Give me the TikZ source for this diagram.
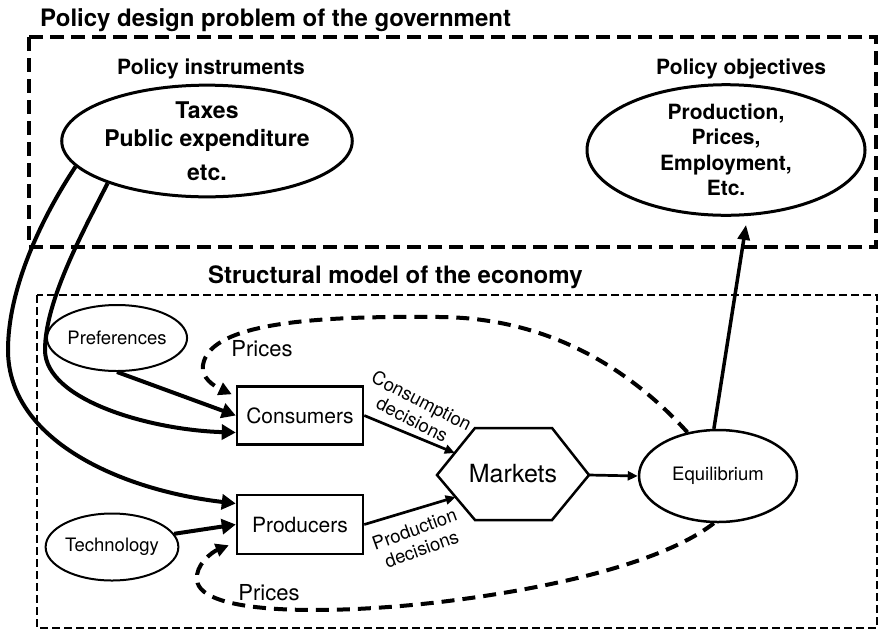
\documentclass[tikz,border=0pt]{standalone}
\usepackage{fontspec}
\setmainfont{TeX Gyre Heros}
\usetikzlibrary{arrows.meta,calc,shapes.geometric}
\begin{document}
\begin{tikzpicture}[x=1pt,y=-1pt,
  heading/.style={font=\fontsize{24}{28}\selectfont\bfseries, anchor=base west, inner sep=0},
  subheading/.style={font=\fontsize{21}{25}\selectfont\bfseries, anchor=base west, inner sep=0},
  policybox/.style={draw, line width=4pt, dash pattern=on 14pt off 7pt},
  modelbox/.style={draw, line width=2.5pt, dash pattern=on 8pt off 4pt},
  bigoval/.style={draw, ellipse, line width=3pt, inner sep=0, align=center},
  smalloval/.style={draw, ellipse, line width=2pt, inner sep=0, font=\fontsize{18.5}{22}\selectfont},
  agent/.style={draw, rectangle, line width=2.5pt, inner sep=0, minimum width=126pt, minimum height=58pt, font=\fontsize{21}{25}\selectfont},
  influence/.style={line width=4pt, -{Triangle[length=14pt,width=15pt]}},
  flow/.style={line width=2.7pt, -{Triangle[length=10pt,width=9pt]}},
  pricefeed/.style={line width=4pt, dash pattern=on 13pt off 8pt, -{Triangle[length=13pt,width=13pt]}},
  decision/.style={font=\fontsize{18.5}{21}\selectfont, align=center, inner sep=0},
  pricelabel/.style={font=\fontsize{22}{26}\selectfont, inner sep=0}
]
\useasboundingbox[fill=white] (0,0) rectangle (880,630);

% government level
\draw[policybox] (29,37) rectangle (876,247);
\node[heading] (govtitle) at (40,26) {Policy design problem of the government};
\node[subheading] (instrtitle) at (117,74) {Policy instruments};
\node[subheading] (objtitle) at (656,74) {Policy objectives};
\node[bigoval, minimum width=274pt, minimum height=108pt,
      font=\fontsize{23}{28}\selectfont\bfseries] (taxes) at (207,141)
      {Taxes\\Public expenditure\\[6pt]etc.};
\node[bigoval, minimum width=278pt, minimum height=109pt,
      font=\fontsize{21}{25.5}\selectfont\bfseries] (obj) at (726,150)
      {Production,\\Prices,\\Employment,\\Etc.};

% economy level
\draw[modelbox] (37,295) rectangle (877,628);
\node[heading] (ecotitle) at (208,283) {Structural model of the economy};
\node[smalloval, minimum width=126pt, minimum height=66pt] (pref) at (117,338) {Preferences};
\node[smalloval, minimum width=116pt, minimum height=67pt] (tech) at (112,547) {Technology};
\node[agent] (cons) at (300,415.5) {Consumers};
\node[agent, minimum height=59pt] (prod) at (300,524.5) {Producers};
\node[smalloval, line width=2.5pt, minimum width=158pt, minimum height=92pt] (eq) at (718,476) {Equilibrium};

% markets hexagon
\node[font=\fontsize{25}{30}\selectfont, inner sep=0] (markets) at (513,474) {Markets};
\coordinate (mkW) at (437,475);
\coordinate (mkNW) at (475,428);
\coordinate (mkNE) at (552,428);
\coordinate (mkE) at (589,475);
\coordinate (mkSE) at (552,520);
\coordinate (mkSW) at (475,520);
\draw[line width=2.5pt] (mkW) -- (mkNW) -- (mkNE) -- (mkE) -- (mkSE) -- (mkSW) -- cycle;
\coordinate (mkin1) at ($(mkW)!0.468!(mkNW)$);
\coordinate (mkin2) at ($(mkW)!0.49!(mkSW)$);

% instruments acting on the agents
\draw[influence] (taxes.191) .. controls (40,220) and (8,290) .. (8,350)
  .. controls (8,440) and (120,490) .. ($(prod.west)+(0,-21)$);
\draw[influence] (taxes.203) .. controls (85,228) and (45,300) .. (45,350)
  .. controls (45,400) and (150,430) .. ($(cons.west)+(0,17)$);
\draw[influence] (pref.south) -- (cons.west);
\draw[influence] (tech.12) -- (prod.west);

% decisions into the markets
\draw[flow] (cons.east) -- (mkin1);
\draw[flow] (prod.east) -- (mkin2);
\node[decision, rotate=-27] (cdec) at (417,410) {Consumption\\decisions};
\node[decision, rotate=20] (pdec) at (418,539) {Production\\decisions};
\draw[flow] (mkE) -- (eq.west);

% price feedback
\draw[pricefeed] (eq.125) .. controls (640,380) and (560,318) .. (440,317)
  .. controls (330,316) and (210,320) .. (203,365)
  .. controls (201,378) and (214,386) .. ($(cons.north west)+(-4,9)$);
\draw[pricefeed] (eq.265) .. controls (660,565) and (540,590) .. (440,602)
  .. controls (330,615) and (200,615) .. (197,580)
  .. controls (195,565) and (212,552) .. ($(prod.south west)+(-7,-10)$);
\node[pricelabel] (pricesup) at (262,349) {Prices};
\node[pricelabel] (pricesdn) at (269,593) {Prices};

% outcome towards the objectives
\draw[line width=3.5pt, -{Triangle[length=15pt,width=12pt]}, shorten >=9pt] (eq.95) -- (obj.-72);
\end{tikzpicture}
\end{document}
